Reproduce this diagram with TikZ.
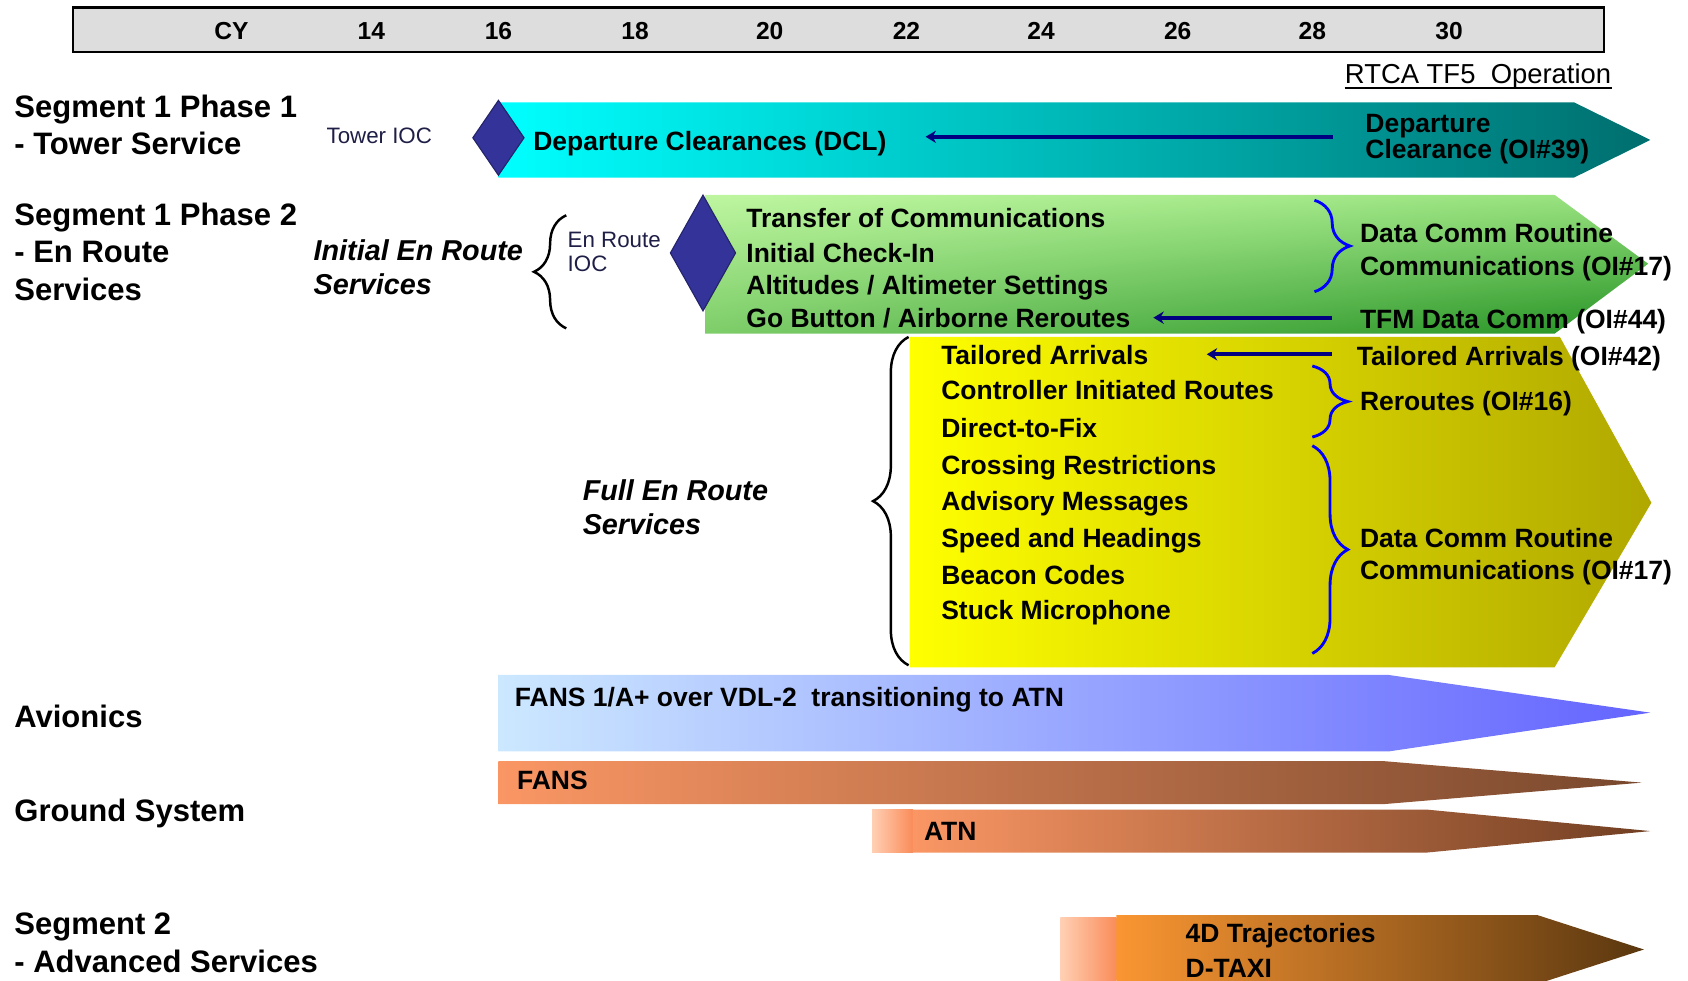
\documentclass[tikz,border=0pt]{standalone}
\usepackage{fontspec}
\setmainfont{Liberation Sans}
\usetikzlibrary{shapes.geometric,decorations.pathreplacing,arrows.meta}
\definecolor{hdrgray}{RGB}{221,221,221}
\definecolor{cyanL}{RGB}{0,255,255}
\definecolor{cyanR}{RGB}{0,110,110}
\definecolor{yellowL}{RGB}{255,255,0}
\definecolor{yellowR}{RGB}{176,168,0}
\definecolor{blueL}{RGB}{204,232,255}
\definecolor{blueR}{RGB}{100,100,255}
\definecolor{orangeL}{RGB}{250,150,100}
\definecolor{orangeR}{RGB}{120,72,45}
\definecolor{peachL}{RGB}{255,208,180}
\definecolor{peachR}{RGB}{250,140,90}
\definecolor{ambL}{RGB}{250,150,50}
\definecolor{ambR}{RGB}{90,55,15}
\definecolor{navy}{RGB}{0,0,128}
\definecolor{iocblue}{RGB}{51,51,153}
\definecolor{ioctext}{RGB}{30,30,70}
\pgfdeclarefunctionalshading{greenband}{\pgfpoint{0bp}{0bp}}{\pgfpoint{100bp}{100bp}}{}{
  25 sub 50 div exch 25 sub 50 div exch
  2 copy mul 0.196 mul 2 index -0.353 mul add 1 index 0.255 mul add 0.490 add 3 1 roll
  2 copy mul 0.152 mul 2 index -0.235 mul add 1 index 0.161 mul add 0.804 add 3 1 roll
  2 copy mul 0.138 mul 2 index -0.275 mul add 1 index 0.215 mul add 0.412 add 3 1 roll
  pop pop
}
\begin{document}
\begin{tikzpicture}[x=0.02cm,y=-0.02cm,
    rowlabel/.style={anchor=west,inner sep=0pt,align=left,font=\fontsize{16.4}{19.8}\selectfont\bfseries},
    yearlabel/.style={inner sep=0pt,font=\fontsize{13}{15}\selectfont\bfseries},
    item/.style={anchor=base west,inner sep=0pt,font=\fontsize{14}{17.6}\selectfont\bfseries},
    itemblock/.style={anchor=west,inner sep=0pt,align=left,font=\fontsize{14}{#1}\selectfont\bfseries},
    phase/.style={anchor=west,inner sep=0pt,align=left,font=\fontsize{15.2}{18}\selectfont\bfseries\itshape},
    ioc/.style={anchor=west,inner sep=0pt,align=left,text=ioctext,font=\fontsize{11.8}{13}\selectfont},
    milestone/.style={diamond,inner sep=0pt,fill=iocblue,draw=iocblue!70!black,line width=0.6pt},
    flow/.style={navy,line width=2.1pt,-{Stealth[length=5.5pt,width=6.5pt]}},
    blackbrace/.style={decorate,decoration={brace,amplitude=0.6cm},line width=1.3pt},
    bluebrace/.style={decorate,decoration={brace,amplitude=0.66cm},blue,line width=1.5pt}]
                \useasboundingbox (0,0) rectangle (1568,911);
                \clip (0,0) rectangle (1568,911);
                \draw[fill=hdrgray,line width=1.2pt] (68,7) rectangle (1490,48);
                \node[yearlabel] (cy) at (215,29) {CY};
                \node[yearlabel] (y14) at (345,29) {14};
                \node[yearlabel] (y16) at (463,29) {16};
                \node[yearlabel] (y18) at (590,29) {18};
                \node[yearlabel] (y20) at (715,29) {20};
                \node[yearlabel] (y22) at (842,29) {22};
                \node[yearlabel] (y24) at (967,29) {24};
                \node[yearlabel] (y26) at (1094,29) {26};
                \node[yearlabel] (y28) at (1219,29) {28};
                \node[yearlabel] (y30) at (1346,29) {30};
                \node[anchor=base east,inner sep=0pt,font=\fontsize{14.5}{16}\selectfont] (rtca) at (1497,77.5) {RTCA TF5\ \ Operation};
                \draw[line width=1.1pt] ([yshift=-2.2pt]rtca.base west) -- ([yshift=-2.2pt]rtca.base east);
                \shade[left color=cyanL,right color=cyanR] (463,95) -- (1462,95) -- (1533,130) -- (1462,165) -- (463,165) -- cycle;
                \shade[shading=greenband] (655,181) -- (1444,181) -- (1531,245) -- (1444,310) -- (655,310) -- cycle;
                \shade[left color=yellowL,right color=yellowR] (845,313) -- (1449,313) -- (1534,467) -- (1444,620) -- (845,620) -- cycle;
                \shade[left color=blueL,right color=blueR] (463,627) -- (1290,627) -- (1533,662) -- (1290,698) -- (463,698) -- cycle;
                \shade[left color=orangeL,right color=orangeR] (463,707) -- (1285,707) -- (1525,727) -- (1285,747) -- (463,747) -- cycle;
                \shade[left color=peachL,right color=peachR] (810,752) rectangle (848,792);
                \shade[left color=orangeL,right color=orangeR!105] (848,752) -- (1325,752) -- (1533,772) -- (1325,792) -- (848,792) -- cycle;
                \shade[left color=peachL,right color=peachR] (985,852) rectangle (1037,920);
                \shade[left color=ambL,right color=ambR] (1037,850) -- (1428,850) -- (1527,882) -- (1428,914) -- (1037,914) -- cycle;
                \node[rowlabel] (seg1p1) at (13,116) {Segment 1 Phase 1\\- Tower Service};
                \node[rowlabel] (seg1p2) at (13,234) {Segment 1 Phase 2\\- En Route\\Services};
                \node[rowlabel,anchor=base west] (avionics) at (13,676) {Avionics};
                \node[rowlabel,anchor=base west] (ground) at (13,763) {Ground System};
                \node[rowlabel] (seg2) at (13,876) {Segment 2\\- Advanced Services};
                \node[ioc] (towerioc) at (303,126) {Tower IOC};
                \node[milestone,minimum width=0.96cm,minimum height=1.4cm] (towerdia) at (463,128) {};
                \node[item] (dcl) at (495,139.5) {Departure Clearances (DCL)};
                \node[itemblock=13.9] (dep39) at (1268,129) {Departure\\Clearance (OI\#39)};
                \draw[flow,shorten <=0.6cm,shorten >=0.72cm] ([yshift=1.1pt]dep39.west) -- ([yshift=1.1pt]dep39.west -| dcl.east);
                \node[phase] (initial) at (291,248) {Initial En Route\\Services};
                \draw[blackbrace] (526,305) -- (526,200);
                \node[ioc] (enrouteioc) at (527,234) {En Route\\IOC};
                \node[milestone,minimum width=1.22cm,minimum height=2.16cm] (enroutedia) at (653,235) {};
                \node[item] (transfer) at (693,211.5) {Transfer of Communications};
                \node[item] (checkin) at (693,243.5) {Initial Check-In};
                \node[item] (altitudes) at (693,273.5) {Altitudes / Altimeter Settings};
                \node[item] (gobutton) at (693,304.5) {Go Button / Airborne Reroutes};
                \draw[bluebrace] (1221,186) -- (1221,271);
                \node[itemblock=17.6] (routine1) at (1263,234) {Data Comm Routine\\Communications (OI\#17)};
                \node[item] (tfm44) at (1263,305.5) {TFM Data Comm (OI\#44)};
                \draw[flow,shorten <=0.52cm,shorten >=0.42cm] ([yshift=2.3pt]tfm44.west) -- ([yshift=2.3pt]tfm44.west -| gobutton.east);
                \node[phase] (full) at (541,471) {Full En Route\\Services};
                \draw[blackbrace,decoration={amplitude=0.66cm}] (844,618) -- (844,313);
                \node[item] (tailored) at (874,338.5) {Tailored Arrivals};
                \node[item] (controller) at (874,371.5) {Controller Initiated Routes};
                \node[item] (direct) at (874,406.5) {Direct-to-Fix};
                \node[item] (crossing) at (874,440.5) {Crossing Restrictions};
                \node[item] (advisory) at (874,474.5) {Advisory Messages};
                \node[item] (speed) at (874,508.5) {Speed and Headings};
                \node[item] (beacon) at (874,542.5) {Beacon Codes};
                \node[item] (stuck) at (874,575.5) {Stuck Microphone};
                \node[item] (ta42) at (1260,339.5) {Tailored Arrivals (OI\#42)};
                \draw[flow,shorten <=0.46cm,shorten >=1.08cm] ([yshift=2.3pt]ta42.west) -- ([yshift=2.3pt]ta42.west -| tailored.east);
                \draw[bluebrace] (1219,340) -- (1219,406);
                \node[item] (reroutes) at (1263,381.5) {Reroutes (OI\#16)};
                \draw[bluebrace] (1219,414) -- (1219,607);
                \node[itemblock=16.5] (routine2) at (1263,517) {Data Comm Routine\\Communications (OI\#17)};
                \node[item] (fans1a) at (478,656.5) {FANS 1/A+ over VDL-2\ \ transitioning to ATN};
                \node[item] (fans) at (480,733.5) {FANS};
                \node[item] (atn) at (858,780.5) {ATN};
                \node[itemblock=18.2] (traj) at (1101,883) {4D Trajectories\\D-TAXI};
            \end{tikzpicture}
\end{document}
